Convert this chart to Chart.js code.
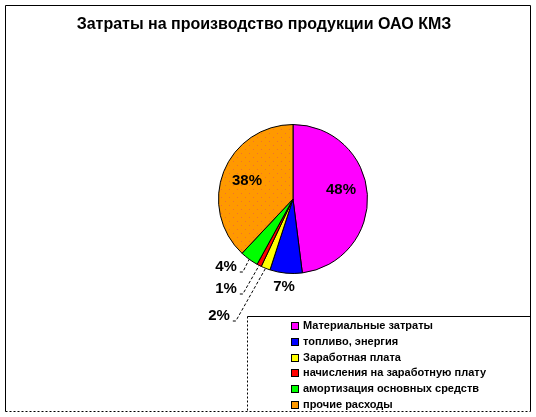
<!DOCTYPE html>
<html>
<head>
<meta charset="utf-8">
<script src="https://cdn.jsdelivr.net/npm/chart.js@4"></script>
<style>
  html, body { margin: 0; padding: 0; background: #fff; }
  #chart { display: block; }
</style>
</head>
<body>
<canvas id="chart" width="536" height="417"></canvas>
<script>
const title = 'Затраты на производство продукции ОАО КМЗ'
const categories = [
  'Материальные затраты',
  'топливо, энергия',
  'Заработная плата',
  'начисления на заработную плату',
  'амортизация основных средств',
  'прочие расходы'
]
const shares = [48, 7, 2, 1, 4, 38]
const colors = ['#FF00FF', '#0000FF', '#FFFF00', '#FF0000', '#00FF00', '#FF9900']

// label placement relative to pie centre (px); lead = draw leader line
const labelLayout = [
  { dx: 48, dy: -9 },
  { dx: -9, dy: 88 },
  { dx: -74, dy: 117, lead: true },
  { dx: -67, dy: 90, lead: true },
  { dx: -67, dy: 68, lead: true },
  { dx: -46, dy: -18 }
]

// orange slice has a faint dotted pattern
function dottedFill(base, dot) {
  const c = document.createElement('canvas')
  c.width = 8
  c.height = 8
  const g = c.getContext('2d')
  g.fillStyle = base
  g.fillRect(0, 0, 8, 8)
  g.fillStyle = dot
  g.fillRect(1, 1, 1, 1)
  g.fillRect(5, 5, 1, 1)
  return g.createPattern(c, 'repeat')
}

const fills = colors.slice()
fills[5] = dottedFill('#FF9900', '#F07030')

const framePlugin = {
  id: 'frame',
  beforeDraw(chart) {
    const ctx = chart.ctx
    ctx.save()
    ctx.fillStyle = '#fff'
    ctx.fillRect(0, 0, chart.width, chart.height)
    ctx.strokeStyle = '#000'
    ctx.lineWidth = 1
    ctx.beginPath()
    ctx.moveTo(5.5, 411.5)
    ctx.lineTo(5.5, 5.5)
    ctx.lineTo(530.5, 5.5)
    ctx.lineTo(530.5, 411.5)
    ctx.stroke()
    ctx.setLineDash([2, 2])
    ctx.beginPath()
    ctx.moveTo(5.5, 411.5)
    ctx.lineTo(530.5, 411.5)
    ctx.stroke()
    ctx.setLineDash([])

    ctx.fillStyle = '#000'
    ctx.font = 'bold 16px "Liberation Sans", Arial, sans-serif'
    ctx.textAlign = 'center'
    ctx.textBaseline = 'middle'
    ctx.fillText(title, 264, 25)
    ctx.restore()
  },
  afterDraw(chart) {
    const ctx = chart.ctx
    const arcs = chart.getDatasetMeta(0).data
    ctx.save()

    // percent labels
    ctx.font = 'bold 15px "Liberation Sans", Arial, sans-serif'
    ctx.textAlign = 'center'
    ctx.textBaseline = 'middle'
    arcs.forEach((arc, i) => {
      const p = labelLayout[i]
      const x = arc.x + p.dx
      const y = arc.y + p.dy
      ctx.fillStyle = '#000'
      ctx.fillText(shares[i] + '%', x, y)
      if (p.lead) {
        const mid = (arc.startAngle + arc.endAngle) / 2
        const ex = arc.x + Math.cos(mid) * arc.outerRadius
        const ey = arc.y + Math.sin(mid) * arc.outerRadius
        const w = ctx.measureText(shares[i] + '%').width
        const sx = x + w / 2 + 3
        const sy = y + 5
        ctx.strokeStyle = '#000'
        ctx.lineWidth = 1
        ctx.setLineDash([3, 2])
        ctx.beginPath()
        ctx.moveTo(sx, sy)
        ctx.lineTo(sx + 3, sy)
        ctx.lineTo(ex, ey)
        ctx.stroke()
        ctx.setLineDash([])
      }
    })

    // legend box
    ctx.strokeStyle = '#000'
    ctx.lineWidth = 1
    ctx.beginPath()
    ctx.moveTo(247.5, 316.5)
    ctx.lineTo(530.5, 316.5)
    ctx.stroke()
    ctx.setLineDash([2, 2])
    ctx.beginPath()
    ctx.moveTo(247.5, 316.5)
    ctx.lineTo(247.5, 411.5)
    ctx.stroke()
    ctx.setLineDash([])

    ctx.font = 'bold 11px "Liberation Sans", Arial, sans-serif'
    ctx.textAlign = 'left'
    ctx.textBaseline = 'middle'
    categories.forEach((name, i) => {
      const y = 326 + i * 15.8
      ctx.fillStyle = colors[i]
      ctx.fillRect(292, Math.round(y) - 3, 6, 6)
      ctx.strokeStyle = '#000'
      ctx.strokeRect(291.5, Math.round(y) - 3.5, 7, 7)
      ctx.fillStyle = '#000'
      ctx.fillText(name, 303, y)
    })
    ctx.restore()
  }
}

new Chart(document.getElementById('chart'), {
  type: 'pie',
  data: {
    labels: categories,
    datasets: [{
      data: shares,
      backgroundColor: fills,
      borderColor: '#000',
      borderWidth: 1
    }]
  },
  options: {
    responsive: false,
    animation: false,
    layout: { padding: { left: 200, right: 150, top: 124, bottom: 143 } },
    plugins: {
      legend: { display: false },
      title: { display: false },
      tooltip: { enabled: false }
    }
  },
  plugins: [framePlugin]
})
</script>
</body>
</html>
